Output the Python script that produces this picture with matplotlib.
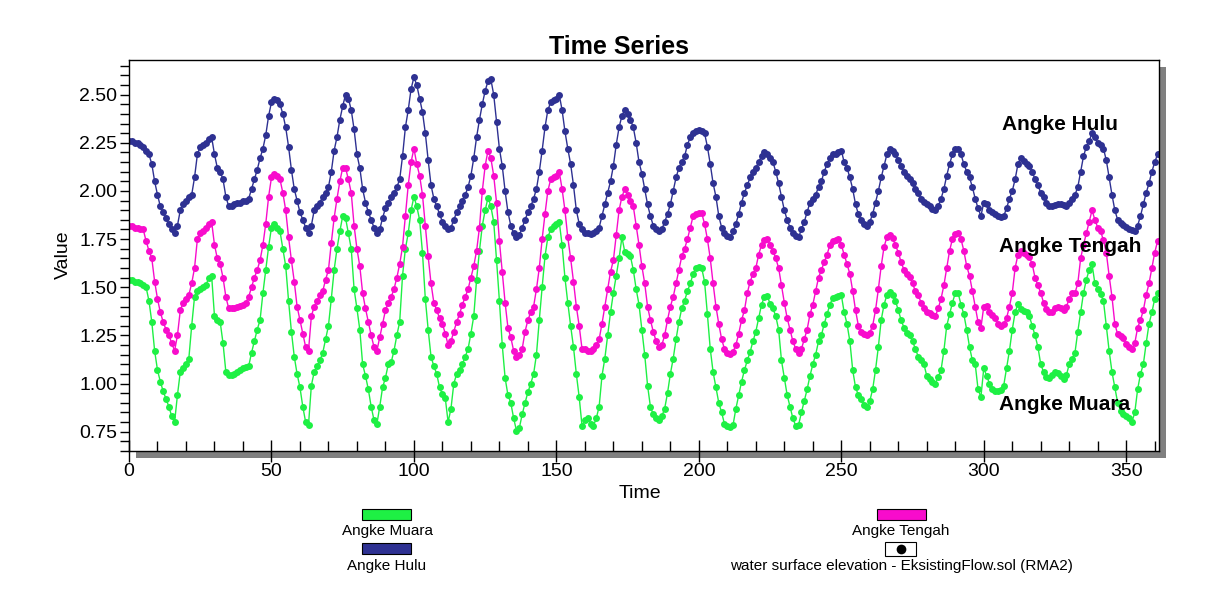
import numpy as np
import matplotlib.pyplot as plt
from matplotlib.patches import Rectangle
from matplotlib.ticker import MultipleLocator, FormatStrFormatter

plt.rcParams['font.family'] = ['Liberation Sans', 'DejaVu Sans']

# water surface elevation, one value per time step (t = 0 .. 361)
hulu = [
    2.26, 2.26, 2.25, 2.25, 2.24, 2.23, 2.21, 2.19, 2.14, 2.05,
    1.98, 1.92, 1.89, 1.86, 1.83, 1.80, 1.78, 1.82, 1.90, 1.93,
    1.95, 1.97, 1.98, 2.07, 2.19, 2.23, 2.24, 2.25, 2.27, 2.28,
    2.19, 2.12, 2.10, 2.06, 1.97, 1.92, 1.92, 1.93, 1.94, 1.94,
    1.95, 1.95, 1.96, 2.01, 2.06, 2.11, 2.17, 2.22, 2.29, 2.39,
    2.46, 2.48, 2.47, 2.45, 2.40, 2.33, 2.23, 2.11, 2.01, 1.95,
    1.89, 1.85, 1.81, 1.78, 1.82, 1.90, 1.92, 1.94, 1.97, 1.99,
    2.02, 2.10, 2.21, 2.28, 2.37, 2.44, 2.50, 2.48, 2.42, 2.32,
    2.19, 2.12, 2.01, 1.94, 1.89, 1.85, 1.81, 1.78, 1.80, 1.86,
    1.91, 1.94, 1.97, 1.99, 2.02, 2.06, 2.18, 2.33, 2.42, 2.53,
    2.59, 2.55, 2.48, 2.41, 2.30, 2.16, 2.03, 1.96, 1.92, 1.88,
    1.84, 1.82, 1.80, 1.81, 1.85, 1.89, 1.92, 1.95, 1.98, 2.02,
    2.08, 2.17, 2.28, 2.37, 2.45, 2.52, 2.57, 2.58, 2.50, 2.36,
    2.22, 2.13, 2.00, 1.89, 1.82, 1.78, 1.76, 1.77, 1.81, 1.85,
    1.89, 1.92, 1.96, 2.01, 2.10, 2.21, 2.33, 2.42, 2.46, 2.47,
    2.48, 2.50, 2.42, 2.31, 2.22, 2.14, 2.03, 1.90, 1.83, 1.80,
    1.78, 1.78, 1.775, 1.78, 1.79, 1.81, 1.87, 1.93, 1.99, 2.05,
    2.13, 2.24, 2.33, 2.39, 2.42, 2.40, 2.37, 2.33, 2.25, 2.15,
    2.09, 2.01, 1.93, 1.87, 1.82, 1.80, 1.79, 1.80, 1.84, 1.88,
    1.93, 2.00, 2.07, 2.12, 2.15, 2.18, 2.24, 2.28, 2.30, 2.31,
    2.315, 2.31, 2.30, 2.23, 2.14, 2.04, 1.97, 1.87, 1.81, 1.78,
    1.765, 1.76, 1.79, 1.83, 1.88, 1.94, 1.99, 2.03, 2.07, 2.10,
    2.12, 2.15, 2.18, 2.20, 2.19, 2.17, 2.15, 2.10, 2.04, 1.97,
    1.90, 1.85, 1.81, 1.78, 1.765, 1.76, 1.80, 1.84, 1.89, 1.94,
    1.96, 1.98, 2.02, 2.05, 2.10, 2.14, 2.17, 2.19, 2.19, 2.20,
    2.21, 2.15, 2.12, 2.07, 2.01, 1.93, 1.88, 1.85, 1.83, 1.82,
    1.84, 1.88, 1.94, 2.00, 2.07, 2.13, 2.19, 2.22, 2.21, 2.19,
    2.16, 2.13, 2.10, 2.08, 2.06, 2.04, 2.01, 1.99, 1.96, 1.945,
    1.93, 1.92, 1.905, 1.90, 1.92, 1.96, 2.01, 2.08, 2.14, 2.19,
    2.22, 2.22, 2.19, 2.14, 2.10, 2.07, 2.02, 1.96, 1.91, 1.87,
    1.94, 1.93, 1.90, 1.89, 1.88, 1.87, 1.865, 1.87, 1.91, 1.96,
    2.00, 2.06, 2.14, 2.17, 2.155, 2.14, 2.13, 2.10, 2.06, 2.03,
    1.99, 1.97, 1.935, 1.92, 1.92, 1.925, 1.93, 1.93, 1.925, 1.92,
    1.94, 1.96, 1.98, 2.02, 2.10, 2.18, 2.23, 2.26, 2.30, 2.28,
    2.25, 2.24, 2.22, 2.16, 2.07, 1.98, 1.90, 1.85, 1.835, 1.825,
    1.815, 1.805, 1.795, 1.79, 1.82, 1.87, 1.93, 1.99, 2.04, 2.10,
    2.15, 2.19,
]

tengah = [
    1.82, 1.82, 1.81, 1.81, 1.80, 1.80, 1.74, 1.69, 1.65, 1.53,
    1.44, 1.37, 1.32, 1.28, 1.25, 1.21, 1.17, 1.25, 1.38, 1.42,
    1.44, 1.46, 1.52, 1.60, 1.75, 1.78, 1.79, 1.81, 1.83, 1.84,
    1.72, 1.65, 1.62, 1.55, 1.45, 1.39, 1.39, 1.395, 1.40, 1.405,
    1.41, 1.42, 1.45, 1.50, 1.55, 1.59, 1.64, 1.72, 1.83, 1.97,
    2.07, 2.09, 2.08, 2.06, 1.99, 1.90, 1.76, 1.64, 1.53, 1.40,
    1.33, 1.26, 1.19, 1.17, 1.35, 1.40, 1.43, 1.46, 1.48, 1.54,
    1.59, 1.73, 1.86, 1.96, 2.05, 2.12, 2.12, 2.06, 1.99, 1.82,
    1.70, 1.61, 1.47, 1.39, 1.32, 1.25, 1.19, 1.17, 1.24, 1.31,
    1.38, 1.42, 1.45, 1.49, 1.55, 1.62, 1.71, 1.87, 2.03, 2.15,
    2.22, 2.14, 2.08, 1.98, 1.82, 1.66, 1.52, 1.42, 1.38, 1.34,
    1.31, 1.26, 1.20, 1.22, 1.27, 1.32, 1.36, 1.41, 1.45, 1.49,
    1.55, 1.61, 1.69, 1.81, 2.00, 2.13, 2.21, 2.17, 2.08, 1.94,
    1.74, 1.58, 1.42, 1.29, 1.24, 1.17, 1.14, 1.15, 1.18, 1.27,
    1.33, 1.37, 1.40, 1.49, 1.60, 1.75, 1.88, 2.00, 2.06, 2.07,
    2.08, 2.10, 2.01, 1.90, 1.76, 1.65, 1.53, 1.40, 1.30, 1.18,
    1.18, 1.17, 1.17, 1.18, 1.20, 1.23, 1.31, 1.40, 1.49, 1.58,
    1.64, 1.77, 1.90, 1.97, 2.01, 1.98, 1.95, 1.92, 1.82, 1.72,
    1.61, 1.52, 1.40, 1.33, 1.27, 1.22, 1.19, 1.20, 1.25, 1.33,
    1.40, 1.45, 1.52, 1.59, 1.66, 1.70, 1.75, 1.81, 1.87, 1.88,
    1.885, 1.885, 1.83, 1.75, 1.65, 1.52, 1.40, 1.31, 1.23, 1.18,
    1.16, 1.155, 1.165, 1.20, 1.26, 1.33, 1.38, 1.47, 1.53, 1.57,
    1.60, 1.67, 1.72, 1.745, 1.75, 1.72, 1.69, 1.65, 1.60, 1.51,
    1.42, 1.34, 1.28, 1.22, 1.18, 1.16, 1.18, 1.23, 1.28, 1.36,
    1.41, 1.48, 1.55, 1.59, 1.63, 1.67, 1.72, 1.74, 1.745, 1.75,
    1.72, 1.67, 1.62, 1.57, 1.48, 1.38, 1.30, 1.27, 1.255, 1.25,
    1.265, 1.30, 1.38, 1.49, 1.61, 1.71, 1.76, 1.77, 1.755, 1.72,
    1.68, 1.63, 1.59, 1.57, 1.555, 1.52, 1.48, 1.46, 1.42, 1.39,
    1.37, 1.365, 1.355, 1.35, 1.39, 1.44, 1.51, 1.60, 1.69, 1.75,
    1.775, 1.78, 1.75, 1.69, 1.61, 1.56, 1.48, 1.40, 1.32, 1.29,
    1.40, 1.405, 1.37, 1.355, 1.34, 1.31, 1.30, 1.31, 1.34, 1.40,
    1.47, 1.60, 1.67, 1.69, 1.68, 1.665, 1.655, 1.62, 1.55, 1.51,
    1.47, 1.42, 1.385, 1.37, 1.37, 1.39, 1.40, 1.395, 1.38, 1.40,
    1.44, 1.47, 1.47, 1.52, 1.65, 1.72, 1.78, 1.84, 1.90, 1.85,
    1.81, 1.79, 1.745, 1.68, 1.56, 1.45, 1.31, 1.255, 1.245, 1.235,
    1.205, 1.19, 1.18, 1.21, 1.29, 1.33, 1.38, 1.46, 1.52, 1.60,
    1.68, 1.74,
]

muara = [
    1.54, 1.54, 1.53, 1.53, 1.52, 1.51, 1.50, 1.43, 1.32, 1.17,
    1.07, 1.01, 0.96, 0.92, 0.88, 0.83, 0.80, 0.94, 1.06, 1.08,
    1.10, 1.13, 1.30, 1.45, 1.48, 1.49, 1.50, 1.51, 1.55, 1.56,
    1.35, 1.33, 1.32, 1.21, 1.06, 1.045, 1.045, 1.05, 1.06, 1.07,
    1.08, 1.085, 1.09, 1.16, 1.22, 1.28, 1.33, 1.47, 1.59, 1.71,
    1.81, 1.83, 1.81, 1.79, 1.70, 1.61, 1.43, 1.27, 1.14, 1.05,
    0.98, 0.88, 0.80, 0.785, 0.99, 1.06, 1.09, 1.12, 1.16, 1.23,
    1.30, 1.44, 1.59, 1.70, 1.79, 1.87, 1.86, 1.78, 1.70, 1.49,
    1.39, 1.28, 1.10, 1.04, 0.97, 0.88, 0.81, 0.79, 0.88, 0.98,
    1.03, 1.10, 1.11, 1.17, 1.25, 1.32, 1.56, 1.70, 1.78, 1.90,
    1.97, 1.92, 1.85, 1.68, 1.44, 1.28, 1.14, 1.09, 1.05, 0.98,
    0.945, 0.925, 0.80, 0.87, 1.00, 1.05, 1.07, 1.10, 1.14, 1.18,
    1.26, 1.35, 1.54, 1.69, 1.82, 1.90, 1.965, 1.92, 1.84, 1.64,
    1.43, 1.20, 1.03, 0.94, 0.90, 0.82, 0.755, 0.77, 0.84, 0.90,
    0.955, 1.00, 1.05, 1.15, 1.33, 1.50, 1.66, 1.76, 1.80, 1.82,
    1.83, 1.84, 1.72, 1.55, 1.42, 1.30, 1.19, 1.05, 0.93, 0.78,
    0.81, 0.82, 0.79, 0.78, 0.82, 0.88, 1.04, 1.13, 1.25, 1.37,
    1.47, 1.56, 1.65, 1.76, 1.685, 1.675, 1.66, 1.59, 1.49, 1.41,
    1.28, 1.15, 0.99, 0.88, 0.84, 0.82, 0.81, 0.83, 0.87, 0.95,
    1.05, 1.13, 1.23, 1.32, 1.39, 1.43, 1.48, 1.52, 1.57, 1.60,
    1.605, 1.60, 1.53, 1.36, 1.18, 1.06, 0.98, 0.90, 0.85, 0.79,
    0.78, 0.775, 0.785, 0.87, 0.94, 1.01, 1.07, 1.12, 1.165, 1.22,
    1.27, 1.34, 1.41, 1.45, 1.455, 1.415, 1.39, 1.35, 1.28, 1.12,
    1.03, 0.94, 0.88, 0.82, 0.78, 0.785, 0.85, 0.91, 0.97, 1.04,
    1.10, 1.15, 1.22, 1.25, 1.31, 1.36, 1.41, 1.445, 1.45, 1.455,
    1.46, 1.37, 1.31, 1.22, 1.07, 0.98, 0.94, 0.92, 0.89, 0.88,
    0.91, 0.97, 1.07, 1.19, 1.33, 1.41, 1.46, 1.475, 1.46, 1.43,
    1.38, 1.33, 1.29, 1.265, 1.25, 1.22, 1.18, 1.14, 1.12, 1.10,
    1.04, 1.025, 1.01, 1.00, 1.035, 1.07, 1.17, 1.30, 1.36, 1.42,
    1.47, 1.47, 1.41, 1.36, 1.28, 1.19, 1.12, 1.10, 0.97, 0.93,
    1.08, 1.04, 1.00, 0.97, 0.96, 0.96, 0.965, 0.99, 1.08, 1.17,
    1.28, 1.37, 1.415, 1.385, 1.375, 1.37, 1.35, 1.30, 1.25, 1.19,
    1.10, 1.06, 1.035, 1.03, 1.045, 1.06, 1.055, 1.04, 1.025, 1.045,
    1.10, 1.13, 1.16, 1.27, 1.37, 1.47, 1.54, 1.59, 1.62, 1.52,
    1.49, 1.465, 1.43, 1.30, 1.17, 1.06, 0.98, 0.90, 0.86, 0.84,
    0.83, 0.82, 0.80, 0.85, 0.97, 1.05, 1.10, 1.21, 1.31, 1.37,
    1.44, 1.47,
]

green = '#1ef044'
pink = '#f80ccc'
navy = '#2e3192'

W, H = 1225, 608
fig = plt.figure(figsize=(W / 100, H / 100), dpi=100)


def frect(x0, y0, x1, y1):
    # pixel box (top-left origin) -> figure fraction
    return (x0 / W, 1 - y1 / H), (x1 - x0) / W, (y1 - y0) / H


# grey drop shadow behind the plot box
xy, w, h = frect(136, 67, 1166, 458)
fig.patches.append(Rectangle(xy, w, h, transform=fig.transFigure,
                             facecolor='#808080', edgecolor='none', zorder=-5))

xy, w, h = frect(129, 60, 1159, 451)
ax = fig.add_axes([xy[0], xy[1], w, h])
ax.set_facecolor('white')

for vals, col in [(muara, green), (tengah, pink), (hulu, navy)]:
    t = np.arange(len(vals))
    ax.plot(t, vals, color=col, lw=1, marker='o', ms=5, mew=0)

ax.set_xlim(0, 361.5)
ax.set_ylim(0.65, 2.68)

ax.xaxis.set_major_locator(MultipleLocator(50))
ax.xaxis.set_minor_locator(MultipleLocator(10))
ax.yaxis.set_major_locator(MultipleLocator(0.25))
ax.yaxis.set_minor_locator(MultipleLocator(0.05))
ax.yaxis.set_major_formatter(FormatStrFormatter('%.2f'))

ax.tick_params(axis='x', which='major', direction='inout', length=16,
               width=1, labelsize=14, pad=1)
ax.tick_params(axis='x', which='minor', direction='in', length=7, width=1)
ax.tick_params(axis='y', which='both', direction='out', length=6.5,
               width=1, labelsize=14, pad=2)
for s in ax.spines.values():
    s.set_linewidth(1)

# series names inside the plot
ax.text(306.3, 2.346, 'Angke Hulu', fontsize=15, fontweight='bold',
        va='center', ha='left')
ax.text(305.3, 1.713, 'Angke Tengah', fontsize=15, fontweight='bold',
        va='center', ha='left')
ax.text(305.3, 0.894, 'Angke Muara', fontsize=15, fontweight='bold',
        va='center', ha='left')

fig.text(619 / W, 1 - 47 / H, 'Time Series', fontsize=18, fontweight='bold',
         ha='center', va='center')
fig.text(63 / W, 1 - 255 / H, 'Value', fontsize=14, rotation=90,
         ha='center', va='center')
fig.text(640 / W, 1 - 494 / H, 'Time', fontsize=14, ha='center', va='center')

# legend below the plot
legend_items = [
    (362, 509, green, 387, 531, 'Angke Muara'),
    (362, 543, navy, 387, 566, 'Angke Hulu'),
    (877, 509, pink, 901, 531, 'Angke Tengah'),
]
for x0, y0, col, tx, ty, label in legend_items:
    xy, w, h = frect(x0, y0, x0 + 49, y0 + 11)
    fig.patches.append(Rectangle(xy, w, h, transform=fig.transFigure,
                                 facecolor=col, edgecolor='black', lw=0.8))
    fig.text(tx / W, 1 - ty / H, label, fontsize=11, ha='center', va='center')

xy, w, h = frect(885, 542, 916, 556)
fig.patches.append(Rectangle(xy, w, h, transform=fig.transFigure,
                             facecolor='white', edgecolor='black', lw=0.8))
fig.lines.append(plt.Line2D([900.5 / W], [1 - 549 / H], transform=fig.transFigure,
                            marker='o', ms=7, color='black', mew=0))
fig.text(901 / W, 1 - 566 / H, 'water surface elevation - EksistingFlow.sol (RMA2)',
         fontsize=11, ha='center', va='center')

fig.savefig('out.png', dpi=100)
